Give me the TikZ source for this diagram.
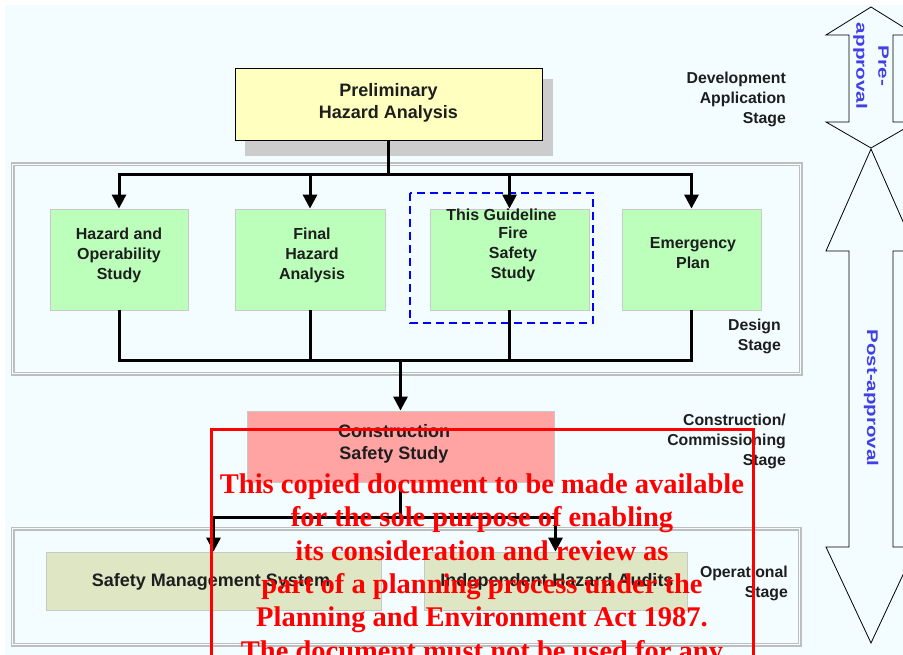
\documentclass[tikz,border=0pt]{standalone}
\usepackage{graphicx}
\usepackage{fontspec}
\setmainfont{Liberation Sans}
\newfontfamily\redserif{Liberation Serif}
\usetikzlibrary{arrows.meta}
\definecolor{bgc}{RGB}{243,252,255}
\definecolor{greenf}{RGB}{187,255,187}
\definecolor{boxedge}{RGB}{200,200,200}
\definecolor{yellowf}{RGB}{255,255,192}
\definecolor{pinkf}{RGB}{255,163,163}
\definecolor{olivef}{RGB}{222,230,196}
\definecolor{stagegray}{RGB}{190,190,190}
\definecolor{shadowc}{RGB}{204,204,204}
\definecolor{txt}{RGB}{30,30,30}
\definecolor{labelblue}{RGB}{64,64,230}
\definecolor{guideblue}{RGB}{0,0,255}
\definecolor{redc}{RGB}{255,0,0}
\begin{document}
\begin{tikzpicture}[x=1pt,y=-1pt,
  box/.style={draw=boxedge, line width=0.8pt, inner sep=0pt, rectangle},
  boxtext/.style={font=\fontsize{16}{20}\selectfont\bfseries, text=txt, align=center, inner sep=0pt},
  bigtext/.style={font=\fontsize{18}{22}\selectfont\bfseries, text=txt, align=center, inner sep=0pt},
  midtext/.style={font=\fontsize{18}{21}\selectfont\bfseries, text=txt, align=center, inner sep=0pt},
  stagetext/.style={font=\fontsize{15.8}{20}\selectfont\bfseries, text=txt, align=right, inner sep=0pt, anchor=east},
  flow/.style={line width=3pt, draw=black},
  arr/.style={flow, -{Triangle[length=14pt,width=14pt]}},
  stagebox/.style={draw=stagegray, line width=1.1pt, double=bgc, double distance=1.8pt},
  bigarrow/.style={draw=black, line width=0.8pt, fill=bgc},
  bluelabel/.style={rotate=-90, text=labelblue, align=center, inner sep=0pt},
  redline/.style={font=\redserif\bfseries\fontsize{28.5}{33}\selectfont, text=redc, inner sep=0pt, anchor=base},
]
\useasboundingbox (0,0) rectangle (903,655);
\clip (0,0) rectangle (903,655);
\fill[white] (0,0) rectangle (903,655);
\fill[bgc] (5,5) rectangle (903,655);

% stage frames
\draw[stagebox] (12.5,164.5) rectangle (800.5,373.5);
\draw[stagebox] (12.5,528.5) rectangle (799.5,644.5);

% preliminary hazard analysis
\fill[shadowc] (245,79) rectangle (553,156);
\node[box, draw=black, fill=yellowf, minimum width=307pt, minimum height=72pt] (pha) at (388.5,104) {};
\node[bigtext] (phat) at (388.5,103) {Preliminary\\Hazard Analysis};

% design stage boxes
\node[box, fill=greenf, minimum width=138pt, minimum height=101pt] (hazop) at (119,259.5) {};
\node[box, fill=greenf, minimum width=150pt, minimum height=101pt] (fha) at (310,259.5) {};
\node[box, fill=greenf, minimum width=159pt, minimum height=101pt] (fss) at (509.5,259.5) {};
\node[box, fill=greenf, minimum width=139pt, minimum height=101pt] (emp) at (691.5,259.5) {};
\draw[guideblue, line width=1.5pt, dash pattern=on 8pt off 5pt] (410,193) rectangle (593,323);

% construction and operational boxes
\node[box, fill=pinkf, minimum width=307pt, minimum height=71pt] (css) at (400.5,446.5) {};
\node[box, fill=olivef, minimum width=335pt, minimum height=58pt] (sms) at (213.5,581) {};
\node[box, fill=olivef, minimum width=263pt, minimum height=58pt] (iha) at (555.5,581) {};

% connectors
\coordinate (j1) at (388.5,175);
\coordinate (j2) at (400.5,360);
\coordinate (j3) at (400.5,517);
\draw[flow] (pha.south) -- (j1);
\draw[arr] (j1) -| (hazop.north);
\draw[arr] (j1) -| (fha.north);
\draw[arr] (j1) -| (fss.north);
\draw[arr] (j1) -| (emp.north);
\draw[flow] (hazop.south) |- (j2);
\draw[flow] (fha.south) |- (j2);
\draw[flow] (fss.south) |- (j2);
\draw[flow] (emp.south) |- (j2);
\draw[arr] (j2) -- (css.north);
\draw[flow] (css.south) -- (j3);
\draw[arr] (j3) -| (sms.north);
\draw[arr] (j3) -| (iha.north);

% box texts
\node[boxtext] (hazopt) at (119,255) {Hazard and\\Operability\\Study};
\node[boxtext] (fhat) at (312,255) {Final\\Hazard\\Analysis};
\node[boxtext] (guidet) at (501.5,215) {This Guideline};
\node[boxtext] (fsst) at (513,254.5) {Fire\\Safety\\Study};
\node[boxtext] (empt) at (693,253.5) {Emergency\\Plan};
\node[bigtext] (csst) at (394,443.5) {Construction\\Safety Study};
\node[midtext] (smst) at (211,581.5) {Safety Management System};
\node[midtext] (ihat) at (557,581.5) {Independent Hazard Audits};

% stage labels
\node[stagetext] (st1) at (786,99.5) {Development\\Application\\Stage};
\node[stagetext] (st2) at (781,336) {Design\\Stage};
\node[stagetext] (st3) at (786,441) {Construction/\\Commissioning\\Stage};
\node[stagetext] (st4) at (788,583.5) {Operational\\Stage};

% approval arrows
\draw[bigarrow] (871,7) -- (916,35) -- (893,35) -- (893,122) -- (916,122) -- (871,148)
  -- (826,122) -- (849,122) -- (849,35) -- (826,35) -- cycle;
\draw[bigarrow] (871,149) -- (916,251) -- (893,251) -- (893,547) -- (916,547) -- (871,643)
  -- (826,547) -- (849,547) -- (849,251) -- (826,251) -- cycle;
\node[bluelabel, font=\fontsize{15}{22}\selectfont\bfseries] (prel) at (871,66)
  {\scalebox{1.38}[1]{Pre-}\\\scalebox{1.38}[1]{approval}};
\node[bluelabel, font=\fontsize{15.5}{20}\selectfont\bfseries] (postl) at (871,398)
  {\scalebox{1.32}[1]{Post-approval}};

% red overlay
\draw[redc, line width=3pt] (211,429) rectangle (753,700);
\node[redline] (r1) at (482,493) {This copied document to be made available};
\node[redline] (r2) at (482,526.5) {for the sole purpose of enabling};
\node[redline] (r3) at (482,560) {its consideration and review as};
\node[redline] (r4) at (482,593) {part of a planning process under the};
\node[redline] (r5) at (482,626.5) {Planning and Environment Act 1987.};
\node[redline] (r6) at (482,660) {The document must not be used for any};
\end{tikzpicture}
\end{document}
